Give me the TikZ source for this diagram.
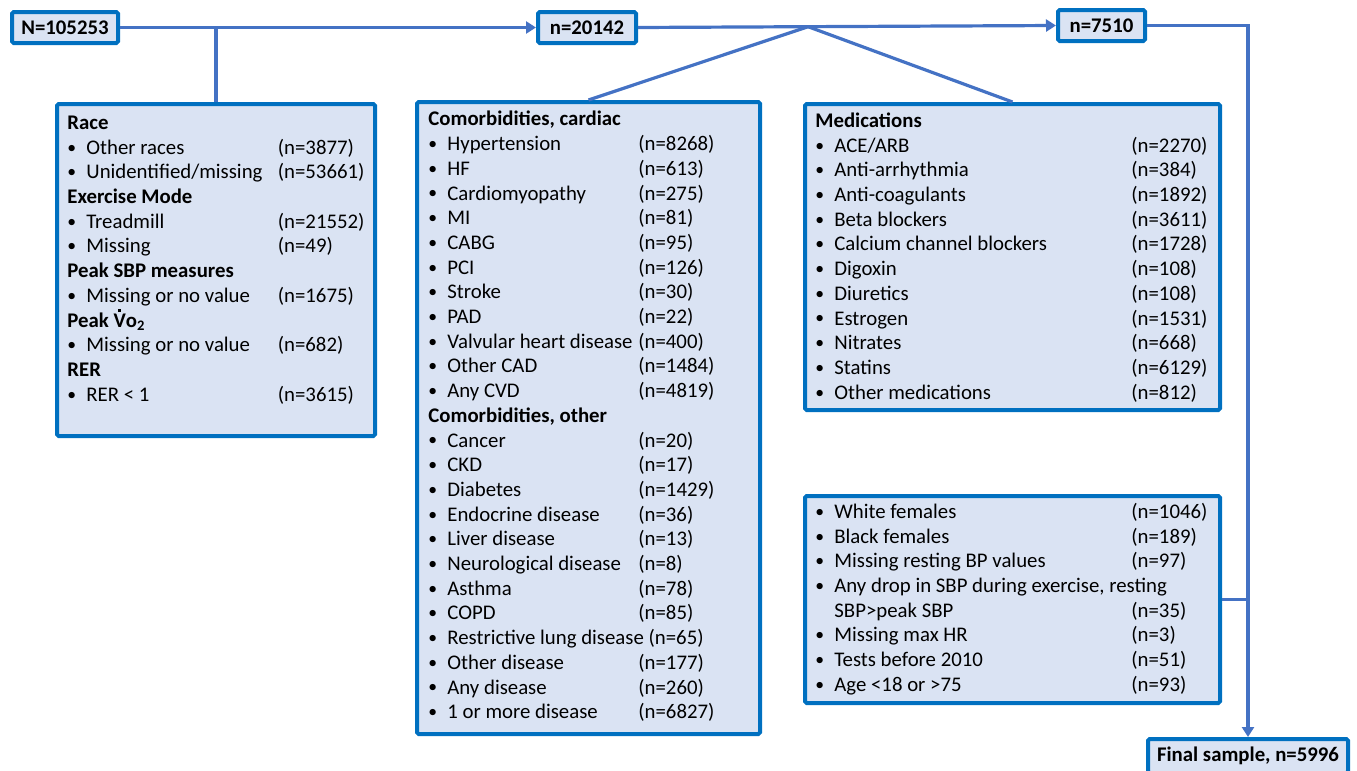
\documentclass[tikz,border=0pt]{standalone}
\usepackage{fontspec}
\setmainfont{Carlito}
\usetikzlibrary{arrows.meta,calc}
\definecolor{boxdraw}{HTML}{0070C0}
\definecolor{boxfill}{HTML}{DAE3F3}
\definecolor{linecol}{HTML}{4472C4}
\newcommand{\smbullet}{\raisebox{0.05em}{\scalebox{0.85}{\textbullet}}}
\newcommand{\bxline}[3]{\makebox[9.5pt][l]{\smbullet}\makebox[#1][l]{#2}#3}
\newcommand{\vdotted}{\ooalign{V\cr\hidewidth\raisebox{0.72em}{\rule{0.13em}{0.13em}}\hidewidth\cr}}
\begin{document}
\begin{tikzpicture}[x=0.5pt,y=-0.5pt,
 box/.style={draw=boxdraw, fill=boxfill, line width=2pt, inner sep=0pt, rounded corners=0.8pt},
 countbox/.style={box, font=\fontsize{10.4pt}{12.35pt}\selectfont\bfseries},
 txt/.style={anchor=north west, align=left, inner sep=0pt, font=\fontsize{10.4pt}{12.35pt}\selectfont},
 conn/.style={draw=linecol, line width=1.6pt},
 arr/.style={conn, -{Triangle[length=5pt,width=6pt]}}]
\useasboundingbox (0,0) rectangle (1357,771);

% count boxes
\node[countbox, minimum width=53pt, minimum height=15.5pt] (n1) at (65,27.5) {N=105253};
\node[countbox, minimum width=49pt, minimum height=15.5pt] (n2) at (587,27.5) {n=20142};
\node[countbox, minimum width=43.5pt, minimum height=15.5pt] (n3) at (1101.5,25.5) {n=7510};
\node[countbox, minimum width=100pt, minimum height=17pt] (final) at (1248,756) {Final sample, n=5996};

% list boxes
\node[box, minimum width=159pt, minimum height=166pt] (race) at (216,270) {};
\node[box, minimum width=171.5pt, minimum height=316pt] (comorb) at (588.5,418) {};
\node[box, minimum width=207.5pt, minimum height=153pt] (med) at (1012.5,257) {};
\node[box, minimum width=207.5pt, minimum height=103.5pt] (excl) at (1012.5,599.5) {};

% texts
\node[txt] (racet) at (67,113) {\rule{0pt}{8pt}\textbf{Race}\\
\bxline{95.75pt}{Other races}{(n=3877)}\\
\bxline{95.75pt}{Unidentified/missing}{(n=53661)}\\
\textbf{Exercise Mode}\\
\bxline{95.75pt}{Treadmill}{(n=21552)}\\
\bxline{95.75pt}{Missing}{(n=49)}\\
\textbf{Peak SBP measures}\\
\bxline{95.75pt}{Missing or no value}{(n=1675)}\\
\textbf{Peak \vdotted o\textsubscript{2}}\\
\bxline{95.75pt}{Missing or no value}{(n=682)}\\
\textbf{RER}\\
\bxline{95.75pt}{RER < 1}{(n=3615)}};

\node[txt] (comorbt) at (428,109.5) {\rule{0pt}{8pt}\textbf{Comorbidities, cardiac}\\
\bxline{95.5pt}{Hypertension}{(n=8268)}\\
\bxline{95.5pt}{HF}{(n=613)}\\
\bxline{95.5pt}{Cardiomyopathy}{(n=275)}\\
\bxline{95.5pt}{MI}{(n=81)}\\
\bxline{95.5pt}{CABG}{(n=95)}\\
\bxline{95.5pt}{PCI}{(n=126)}\\
\bxline{95.5pt}{Stroke}{(n=30)}\\
\bxline{95.5pt}{PAD}{(n=22)}\\
\bxline{95.5pt}{Valvular heart disease}{(n=400)}\\
\bxline{95.5pt}{Other CAD}{(n=1484)}\\
\bxline{95.5pt}{Any CVD}{(n=4819)}\\
\textbf{Comorbidities, other}\\
\bxline{95.5pt}{Cancer}{(n=20)}\\
\bxline{95.5pt}{CKD}{(n=17)}\\
\bxline{95.5pt}{Diabetes}{(n=1429)}\\
\bxline{95.5pt}{Endocrine disease}{(n=36)}\\
\bxline{95.5pt}{Liver disease}{(n=13)}\\
\bxline{95.5pt}{Neurological disease}{(n=8)}\\
\bxline{95.5pt}{Asthma}{(n=78)}\\
\bxline{95.5pt}{COPD}{(n=85)}\\
\makebox[9.5pt][l]{\smbullet}Restrictive lung disease (n=65)\\
\bxline{95.5pt}{Other disease}{(n=177)}\\
\bxline{95.5pt}{Any disease}{(n=260)}\\
\bxline{95.5pt}{1 or more disease}{(n=6827)}};

\node[txt] (medt) at (815,111) {\rule{0pt}{8pt}\textbf{Medications}\\
\bxline{148.5pt}{ACE/ARB}{(n=2270)}\\
\bxline{148.5pt}{Anti-arrhythmia}{(n=384)}\\
\bxline{148.5pt}{Anti-coagulants}{(n=1892)}\\
\bxline{148.5pt}{Beta blockers}{(n=3611)}\\
\bxline{148.5pt}{Calcium channel blockers}{(n=1728)}\\
\bxline{148.5pt}{Digoxin}{(n=108)}\\
\bxline{148.5pt}{Diuretics}{(n=108)}\\
\bxline{148.5pt}{Estrogen}{(n=1531)}\\
\bxline{148.5pt}{Nitrates}{(n=668)}\\
\bxline{148.5pt}{Statins}{(n=6129)}\\
\bxline{148.5pt}{Other medications}{(n=812)}};

\node[txt] (exclt) at (815,502) {\rule{0pt}{8pt}\bxline{148.5pt}{White females}{(n=1046)}\\
\bxline{148.5pt}{Black females}{(n=189)}\\
\bxline{148.5pt}{Missing resting BP values}{(n=97)}\\
\makebox[9.5pt][l]{\smbullet}Any drop in SBP during exercise, resting\\
\hspace*{9.5pt}\makebox[148.5pt][l]{SBP>peak SBP}(n=35)\\
\bxline{148.5pt}{Missing max HR}{(n=3)}\\
\bxline{148.5pt}{Tests before 2010}{(n=51)}\\
\bxline{148.5pt}{Age <18 or >75}{(n=93)}};

% connectors
\draw[arr] (n1.east) -- (n2.west);
\draw[conn] (race.north) -- (race.north |- n1.east);
\draw[arr] (n2.east) -- (n3.west);
\coordinate (fork) at ($(n2.east)!0.407!(n3.west)$);
\draw[conn] (fork) -- (comorb.north);
\draw[conn] (fork) -- (med.north);
\draw[arr] (n3.east) -| (final.north);
\draw[conn] (excl.east) -- (excl.east -| final.north);
\end{tikzpicture}
\end{document}
